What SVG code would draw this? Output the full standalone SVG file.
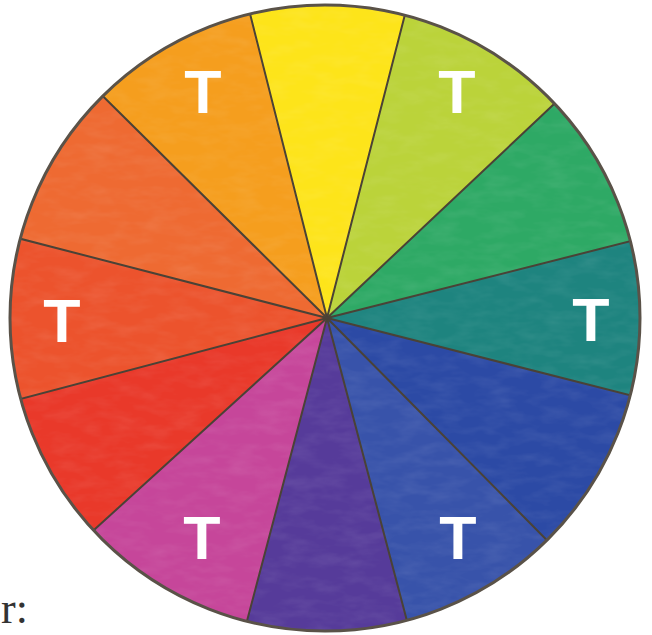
<svg xmlns="http://www.w3.org/2000/svg" width="652" height="635" viewBox="0 0 652 635">
  <defs>
    <clipPath id="disc">
      <ellipse cx="325" cy="318" rx="315" ry="313"/>
    </clipPath>
    <filter id="wash" x="0" y="0" width="100%" height="100%">
      <feTurbulence type="fractalNoise" baseFrequency="0.035 0.09" numOctaves="3" seed="7"/>
      <feColorMatrix type="matrix" values="0 0 0 0 1  0 0 0 0 1  0 0 0 0 1  1.2 0 0 0 -0.45"/>
    </filter>
    <style>
      .lbl { font-family: "Liberation Sans", Arial, sans-serif; font-weight: bold; font-size: 61px; fill: #ffffff; text-anchor: middle; }
      .div { stroke: #4a4236; stroke-width: 2; stroke-linecap: round; fill: none; }
      .rim { stroke: #5a5248; stroke-width: 3; fill: none; }
      .note { font-family: "Liberation Serif", "Times New Roman", serif; font-size: 44px; fill: #333333; }
    </style>
  </defs>
  <rect width="652" height="635" fill="#ffffff"/>
  <g clip-path="url(#disc)">
    <g id="yellow"><polygon points="327,318 243.6,-11.6 327,-30 411.6,-11.3" fill="#fde41a"/></g>
    <g id="yellow-green"><polygon points="327,318 411.6,-11.3 520,20 574.5,84.8" fill="#bbd33a"/></g>
    <g id="green"><polygon points="327,318 574.5,84.8 640,150 656.6,234.6" fill="#2ea965"/></g>
    <g id="teal"><polygon points="327,318 656.6,234.6 680,318 656.5,402" fill="#1e847f"/></g>
    <g id="blue"><polygon points="327,318 656.5,402 640,500 566.2,559.7" fill="#2c4aa5"/></g>
    <g id="blue-violet"><polygon points="327,318 566.2,559.7 500,640 413.8,646.7" fill="#3853aa"/></g>
    <g id="purple"><polygon points="327,318 413.8,646.7 327,670 240.2,646.7" fill="#563b9a"/></g>
    <g id="magenta"><polygon points="327,318 240.2,646.7 140,620 75.5,546.8" fill="#c6469a"/></g>
    <g id="red"><polygon points="327,318 75.5,546.8 10,480 -1.7,404.8" fill="#e9392a"/></g>
    <g id="red-orange"><polygon points="327,318 -1.7,404.8 -20,318 -2.2,232.9" fill="#ec532d"/></g>
    <g id="orange"><polygon points="327,318 -2.2,232.9 20,140 85.3,78.8" fill="#ee6a32"/></g>
    <g id="light-orange"><polygon points="327,318 85.3,78.8 160,20 243.6,-11.6" fill="#f59e1e"/></g>
    <rect width="652" height="635" filter="url(#wash)" opacity="0.12"/>
    <g id="dividers">
      <line class="div" x1="327" y1="318" x2="243.6" y2="-11.6"/>
      <line class="div" x1="327" y1="318" x2="411.6" y2="-11.3"/>
      <line class="div" x1="327" y1="318" x2="574.5" y2="84.8"/>
      <line class="div" x1="327" y1="318" x2="656.6" y2="234.6"/>
      <line class="div" x1="327" y1="318" x2="656.5" y2="402"/>
      <line class="div" x1="327" y1="318" x2="566.2" y2="559.7"/>
      <line class="div" x1="327" y1="318" x2="413.8" y2="646.7"/>
      <line class="div" x1="327" y1="318" x2="240.2" y2="646.7"/>
      <line class="div" x1="327" y1="318" x2="75.5" y2="546.8"/>
      <line class="div" x1="327" y1="318" x2="-1.7" y2="404.8"/>
      <line class="div" x1="327" y1="318" x2="-2.2" y2="232.9"/>
      <line class="div" x1="327" y1="318" x2="85.3" y2="78.8"/>
    </g>
  </g>
  <ellipse class="rim" cx="325" cy="318" rx="315" ry="313"/>
  <g id="labels">
    <text class="lbl" x="203" y="113">T</text>
    <text class="lbl" x="457" y="113">T</text>
    <text class="lbl" x="591" y="341">T</text>
    <text class="lbl" x="458" y="559">T</text>
    <text class="lbl" x="202" y="559">T</text>
    <text class="lbl" x="62" y="342">T</text>
  </g>
  <text class="note" x="1" y="623">r:</text>
</svg>
